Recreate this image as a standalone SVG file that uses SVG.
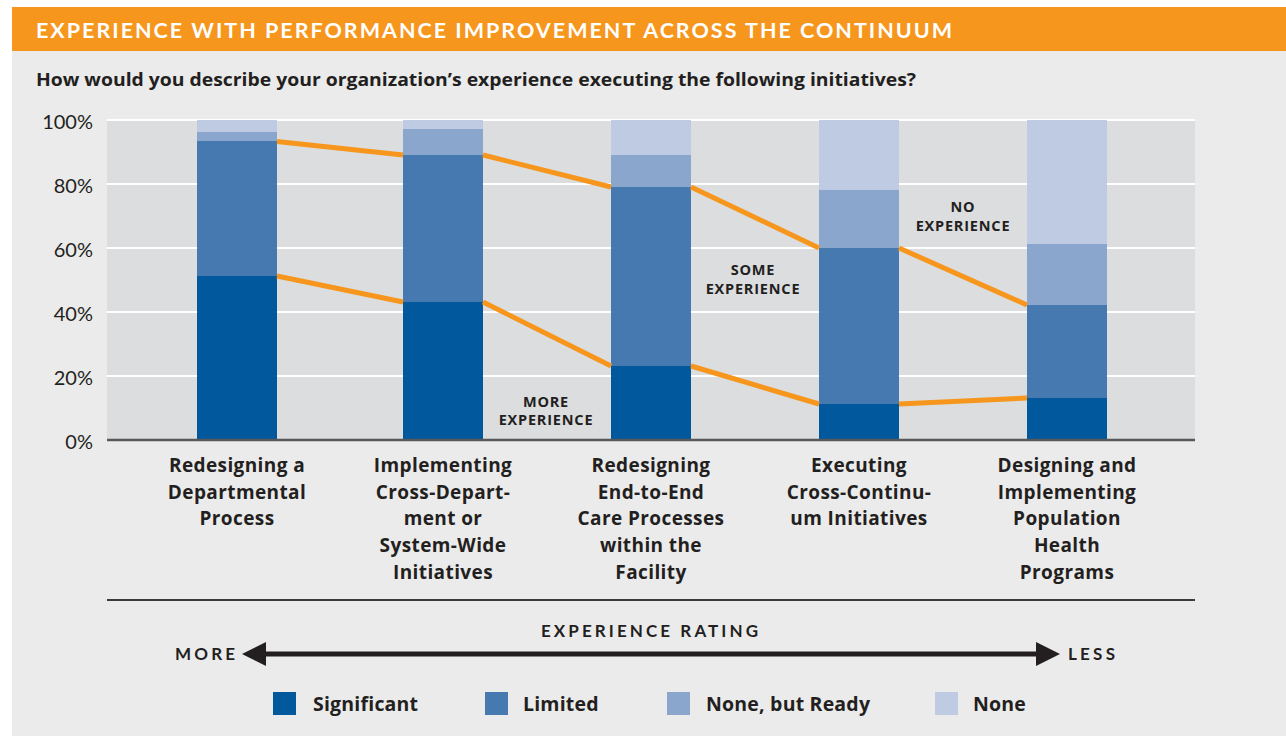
<svg xmlns="http://www.w3.org/2000/svg" width="1286" height="736" viewBox="0 0 1286 736">
<style>
.t{font-family:Lato,"Liberation Sans",sans-serif;fill:#231f20}
.o{font-family:"Open Sans","Liberation Sans",sans-serif;fill:#231f20;font-weight:bold}
.b{font-weight:bold}
.ax{font-size:20px;text-anchor:end}
.cat{font-size:19px;text-anchor:middle;letter-spacing:0.4px}
.ann{font-size:14.5px;text-anchor:middle;letter-spacing:0.8px}
.leg{font-size:19.5px;letter-spacing:0.2px}
.grid{stroke:#ffffff;stroke-width:2}
.s1{fill:#02589c}.s2{fill:#4779b1}.s3{fill:#8ba6cd}.s4{fill:#bfcbe2}
.ol{stroke:#f7961d;stroke-width:5;fill:none}
</style>
<rect x="0" y="0" width="1286" height="736" fill="#ffffff"/>
<rect x="12" y="51" width="1274" height="685" fill="#ebebeb"/>
<rect id="header" x="12" y="7" width="1274" height="44" fill="#f7961d"/>
<text class="t b" x="36" y="37.5" font-size="21.5" style="fill:#fff" textLength="916" lengthAdjust="spacing">EXPERIENCE WITH PERFORMANCE IMPROVEMENT ACROSS THE CONTINUUM</text>
<text class="o" x="36" y="86" font-size="17" textLength="880" lengthAdjust="spacingAndGlyphs">How would you describe your organization’s experience executing the following initiatives?</text>
<g id="plot">
<rect x="107" y="120" width="1088" height="320" fill="#dcdddf"/>
<line class="grid" x1="107" y1="120" x2="1195" y2="120"/>
<line class="grid" x1="107" y1="184" x2="1195" y2="184"/>
<line class="grid" x1="107" y1="248" x2="1195" y2="248"/>
<line class="grid" x1="107" y1="312" x2="1195" y2="312"/>
<line class="grid" x1="107" y1="376" x2="1195" y2="376"/>
</g>
<g id="yaxis">
<text class="t ax" x="93" y="129">100%</text>
<text class="t ax" x="93" y="193">80%</text>
<text class="t ax" x="93" y="257">60%</text>
<text class="t ax" x="93" y="321">40%</text>
<text class="t ax" x="93" y="385">20%</text>
<text class="t ax" x="93" y="449">0%</text>
</g>
<g id="bar1">
<rect class="s4" x="197" y="120" width="80" height="12"/>
<rect class="s3" x="197" y="132" width="80" height="9"/>
<rect class="s2" x="197" y="141" width="80" height="135"/>
<rect class="s1" x="197" y="276" width="80" height="164"/>
</g>
<g id="bar2">
<rect class="s4" x="403" y="120" width="80" height="9"/>
<rect class="s3" x="403" y="129" width="80" height="26"/>
<rect class="s2" x="403" y="155" width="80" height="147"/>
<rect class="s1" x="403" y="302" width="80" height="138"/>
</g>
<g id="bar3">
<rect class="s4" x="611" y="120" width="80" height="35"/>
<rect class="s3" x="611" y="155" width="80" height="32"/>
<rect class="s2" x="611" y="187" width="80" height="179"/>
<rect class="s1" x="611" y="366" width="80" height="74"/>
</g>
<g id="bar4">
<rect class="s4" x="819" y="120" width="80" height="70"/>
<rect class="s3" x="819" y="190" width="80" height="58"/>
<rect class="s2" x="819" y="248" width="80" height="156"/>
<rect class="s1" x="819" y="404" width="80" height="36"/>
</g>
<g id="bar5">
<rect class="s4" x="1027" y="120" width="80" height="124"/>
<rect class="s3" x="1027" y="244" width="80" height="61"/>
<rect class="s2" x="1027" y="305" width="80" height="93"/>
<rect class="s1" x="1027" y="398" width="80" height="42"/>
</g>
<g id="connectors">
<polyline class="ol" points="277,141.5 403,155"/>
<polyline class="ol" points="483,155 611,187"/>
<polyline class="ol" points="691,187 819,248"/>
<polyline class="ol" points="899,248 1027,305"/>
<polyline class="ol" points="277,276 403,302"/>
<polyline class="ol" points="483,302 611,366"/>
<polyline class="ol" points="691,366 819,404"/>
<polyline class="ol" points="899,404 1027,398"/>
</g>
<line x1="107" y1="440" x2="1195" y2="440" stroke="#58585a" stroke-width="2.5"/>
<g id="annotations">
<text class="o ann" x="546" y="407">MORE</text>
<text class="o ann" x="546" y="425">EXPERIENCE</text>
<text class="o ann" x="753" y="275">SOME</text>
<text class="o ann" x="753" y="294">EXPERIENCE</text>
<text class="o ann" x="963" y="212">NO</text>
<text class="o ann" x="963" y="231">EXPERIENCE</text>
</g>
<g id="cat1">
<text class="o cat" x="237" y="472">Redesigning a</text>
<text class="o cat" x="237" y="499">Departmental</text>
<text class="o cat" x="237" y="525">Process</text>
</g>
<g id="cat2">
<text class="o cat" x="443" y="472">Implementing</text>
<text class="o cat" x="443" y="499">Cross-Depart-</text>
<text class="o cat" x="443" y="525">ment or</text>
<text class="o cat" x="443" y="552">System-Wide</text>
<text class="o cat" x="443" y="579">Initiatives</text>
</g>
<g id="cat3">
<text class="o cat" x="651" y="472">Redesigning</text>
<text class="o cat" x="651" y="499">End-to-End</text>
<text class="o cat" x="651" y="525">Care Processes</text>
<text class="o cat" x="651" y="552">within the</text>
<text class="o cat" x="651" y="579">Facility</text>
</g>
<g id="cat4">
<text class="o cat" x="859" y="472">Executing</text>
<text class="o cat" x="859" y="499">Cross-Continu-</text>
<text class="o cat" x="859" y="525">um Initiatives</text>
</g>
<g id="cat5">
<text class="o cat" x="1067" y="472">Designing and</text>
<text class="o cat" x="1067" y="499">Implementing</text>
<text class="o cat" x="1067" y="525">Population</text>
<text class="o cat" x="1067" y="552">Health</text>
<text class="o cat" x="1067" y="579">Programs</text>
</g>
<line x1="107" y1="600" x2="1195" y2="600" stroke="#3a3a3a" stroke-width="2"/>
<g id="rating">
<text class="t b" x="541" y="637" font-size="17" textLength="217" lengthAdjust="spacing">EXPERIENCE RATING</text>
<text class="t b" x="175" y="660" font-size="17" textLength="60" lengthAdjust="spacing">MORE</text>
<text class="t b" x="1068" y="660" font-size="17" textLength="47" lengthAdjust="spacing">LESS</text>
<line x1="262" y1="654" x2="1040" y2="654" stroke="#231f20" stroke-width="5"/>
<polygon points="242,654 266,642 266,666" fill="#231f20"/>
<polygon points="1060,654 1036,642 1036,666" fill="#231f20"/>
</g>
<g id="legend">
<rect class="s1" x="273" y="692" width="23" height="23"/>
<text class="o leg" x="313" y="711">Significant</text>
<rect class="s2" x="485" y="692" width="23" height="23"/>
<text class="o leg" x="523" y="711">Limited</text>
<rect class="s3" x="667" y="692" width="23" height="23"/>
<text class="o leg" x="706" y="711">None, but Ready</text>
<rect class="s4" x="935" y="692" width="23" height="23"/>
<text class="o leg" x="973" y="711">None</text>
</g>
</svg>
